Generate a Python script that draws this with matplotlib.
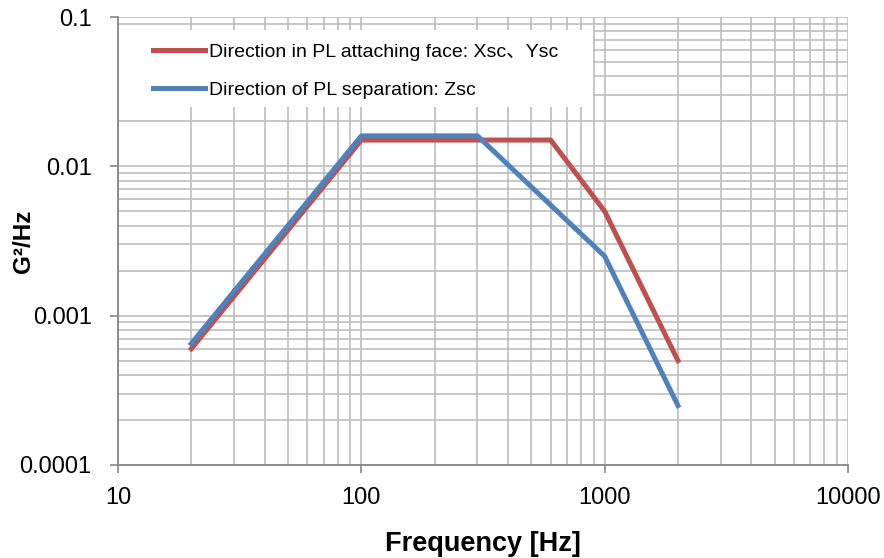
import matplotlib.pyplot as plt
from matplotlib.patches import Rectangle
from matplotlib.ticker import LogLocator, FixedLocator, NullFormatter

plt.rcParams['font.family'] = ['Liberation Sans', 'Noto Sans CJK JP', 'DejaVu Sans']

# Dados
freq_xy = [20, 100, 600, 1000, 2000]
psd_xy = [0.0006, 0.015, 0.015, 0.005, 0.0005]
freq_z = [20, 100, 300, 1000, 2000]
psd_z = [0.00065, 0.016, 0.016, 0.0025, 0.00025]

label_xy = 'Direction in PL attaching face: Xsc\u3001Ysc'
label_z = 'Direction of PL separation: Zsc'
ytick_vals = [0.0001, 0.001, 0.01, 0.1]
ytick_labels = ['0.0001', '0.001', '0.01', '0.1']
xtick_vals = [10, 100, 1000, 10000]
xtick_labels = ['10', '100', '1000', '10000']

grid_c = '#BEBEBE'

fig = plt.figure(figsize=(8.84, 5.58), dpi=100)
ax = fig.add_axes([0.1335, 0.1667, 0.8258, 0.8028])

ax.plot(freq_xy, psd_xy, color='#C0504D', linewidth=3.6, label=label_xy, zorder=3)
ax.plot(freq_z, psd_z, color='#4F81BD', linewidth=3.6, label=label_z, zorder=4)

ax.set_xscale('log')
ax.set_yscale('log')
ax.set_xlim(10, 10000)
ax.set_ylim(0.0001, 0.1)

ax.xaxis.set_major_locator(FixedLocator(xtick_vals))
ax.set_xticklabels(xtick_labels)
ax.yaxis.set_major_locator(FixedLocator(ytick_vals))
ax.set_yticklabels(ytick_labels)
ax.xaxis.set_minor_locator(LogLocator(base=10, subs=range(2, 10)))
ax.yaxis.set_minor_locator(LogLocator(base=10, subs=range(2, 10)))
ax.xaxis.set_minor_formatter(NullFormatter())
ax.yaxis.set_minor_formatter(NullFormatter())

ax.grid(True, which='both', color=grid_c, linewidth=1.2)
ax.tick_params(which='major', length=6, width=1.2, color='#888888', labelsize=17)
ax.tick_params(axis='y', pad=13)
ax.tick_params(axis='x', pad=10)
ax.tick_params(which='minor', length=0)

for s in ['top', 'right']:
    ax.spines[s].set_visible(False)
for s in ['left', 'bottom']:
    ax.spines[s].set_color('#888888')
    ax.spines[s].set_linewidth(1.3)

ax.set_xlabel('Frequency [Hz]', fontsize=19.5, fontweight='bold', va='center')
ax.xaxis.set_label_coords(0.5, -0.1763)
ax.set_ylabel('G²/Hz', fontsize=17.5, fontweight='bold', va='center')
ax.yaxis.set_label_coords(-0.130, 0.5)

# caixa branca da legenda
ax.add_patch(Rectangle((0.002, 0.80), 0.648, 0.171, transform=ax.transAxes,
                       facecolor='white', edgecolor='none', zorder=5))
leg = ax.legend(loc='upper left', bbox_to_anchor=(0.048, 0.942), fontsize=14,
                handlelength=2.68, handletextpad=0.2, frameon=False,
                borderpad=0, labelspacing=1.06, borderaxespad=0)
leg.set_zorder(6)

fig.savefig('out.png', dpi=100)
